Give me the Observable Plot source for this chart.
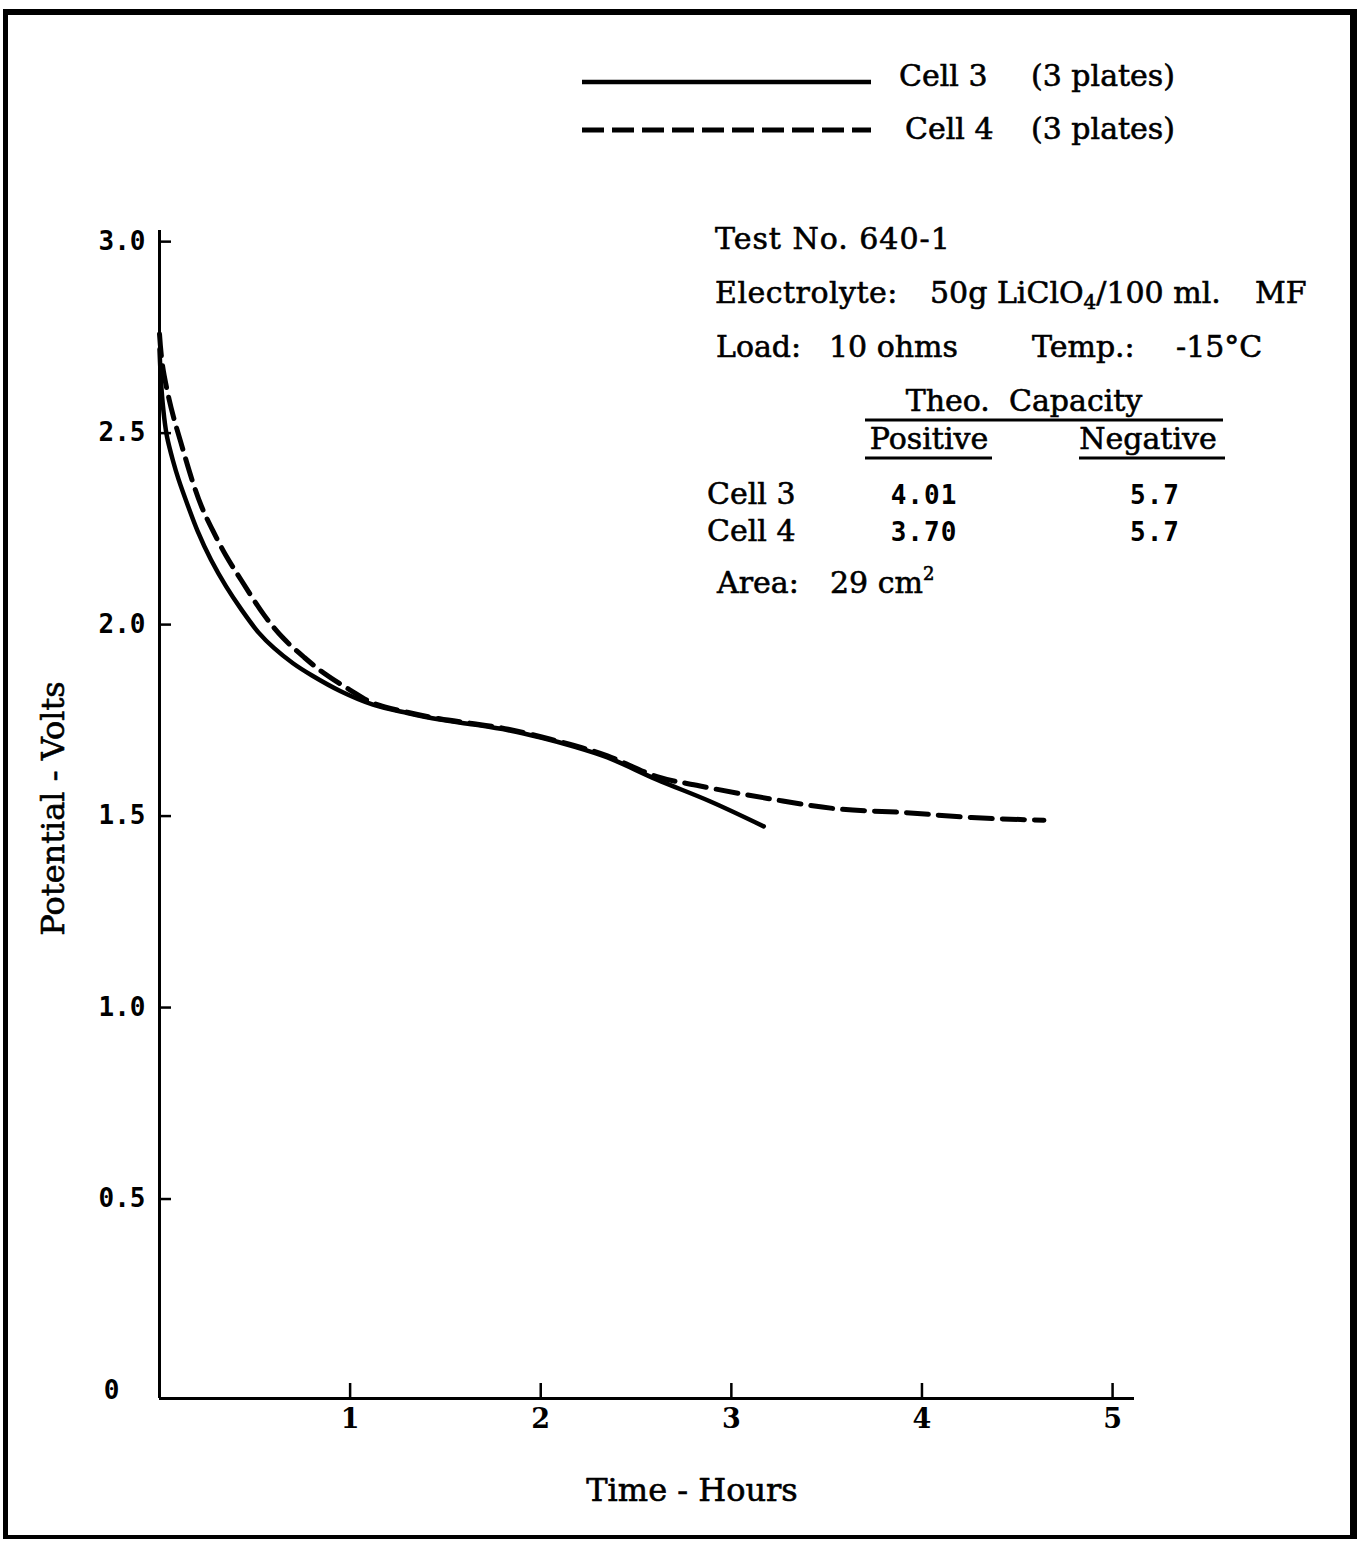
<!DOCTYPE html>
<html><head><meta charset="utf-8">
<script src="https://cdn.jsdelivr.net/npm/d3@7"></script>
<script src="https://cdn.jsdelivr.net/npm/@observablehq/plot@0.6"></script>
<style>
html,body{margin:0;padding:0;background:#fff;}
#page{position:relative;width:1359px;height:1541px;overflow:hidden;background:#fff;}
#frame{position:absolute;left:3px;top:9px;width:1354px;height:1530px;box-sizing:border-box;border-style:solid;border-color:#000;border-width:6px 7px 4px 5px;}
#chart,#notes{position:absolute;left:0;top:0;}
</style></head>
<body><div id="page"><div id="frame"></div><div id="chart"></div><svg id="notes" width="1359" height="1541"></svg></div>
<script>
// ---- data ----
const cell3Hours = [0, 0.01, 0.025, 0.04, 0.07, 0.1, 0.15, 0.2, 0.27, 0.35, 0.43, 0.52, 0.6, 0.7, 0.8, 0.95, 1.12, 1.3, 1.47, 1.65, 1.83, 2.0, 2.17, 2.35, 2.61, 2.89, 3.17];
const cell3Volts = [2.74, 2.64, 2.56, 2.51, 2.45, 2.40, 2.33, 2.265, 2.19, 2.12, 2.06, 2.00, 1.96, 1.92, 1.888, 1.847, 1.812, 1.79, 1.773, 1.76, 1.745, 1.726, 1.703, 1.674, 1.616, 1.559, 1.494];
const cell4Hours = [0, 0.015, 0.05, 0.075, 0.11, 0.17, 0.22, 0.28, 0.35, 0.43, 0.55, 0.65, 0.76, 0.86, 1.0, 1.12, 1.3, 1.47, 1.65, 1.83, 2.0, 2.17, 2.35, 2.61, 2.83, 3.19, 3.55, 3.91, 4.26, 4.64];
const cell4Volts = [2.78, 2.70, 2.61, 2.56, 2.50, 2.40, 2.33, 2.266, 2.20, 2.136, 2.045, 1.985, 1.935, 1.895, 1.85, 1.816, 1.792, 1.775, 1.762, 1.748, 1.728, 1.706, 1.678, 1.624, 1.60, 1.567, 1.54, 1.53, 1.517, 1.51];
const xTicks = [1, 2, 3, 4, 5];
const yTicks = [0.5, 1.0, 1.5, 2.0, 2.5, 3.0];
const yZero = [0];
const xTitle = "Time - Hours";
const yTitle = "Potential - Volts";
const seriesNames = ["Cell 3", "Cell 4"];
const seriesNote = "(3 plates)";
const testLine = "Test No. 640-1";
const electrolyteParts = ["Electrolyte:", "50g LiClO", "4", "/100 ml.", "MF"];
const loadParts = ["Load:", "10 ohms", "Temp.:", "-15°C"];
const capacityTitle = "Theo.\u00a0 Capacity";
const capacityCols = ["Positive", "Negative"];
const positiveCap = ["4.01", "3.70"];
const negativeCap = ["5.7", "5.7"];
const areaParts = ["Area:", "29 cm", "2"];

// ---- chart ----
const rows = [
  ...cell3Hours.map((t, i) => ({cell: seriesNames[0], t, v: cell3Volts[i]})),
  ...cell4Hours.map((t, i) => ({cell: seriesNames[1], t, v: cell4Volts[i]}))
];
const serif = "DejaVu Serif";
const mono = "DejaVu Sans Mono";

const plot = Plot.plot({
  width: 1359, height: 1541,
  marginLeft: 159, marginRight: 225, marginTop: 230, marginBottom: 143,
  x: {domain: [0, 5.115]},
  y: {domain: [0, 3.05]},
  style: {background: "transparent", color: "#000", overflow: "visible"},
  marks: [
    Plot.ruleX([0], {strokeWidth: 3}),
    Plot.ruleY([0], {strokeWidth: 3}),
    Plot.axisY(yTicks, {tickSize: -12, tickPadding: 26, tickFormat: d => d.toFixed(1), fontFamily: mono, fontWeight: "bold", fontSize: 26, letterSpacing: 1, dy: -8, strokeWidth: 2.5, label: null}),
    Plot.text(yZero, {x: 0, y: d => d, text: d => String(d), fontFamily: mono, fontWeight: "bold", fontSize: 26, dx: -48, dy: -8}),
    Plot.axisX(xTicks, {tickSize: -15, tickPadding: 25, tickFormat: d => String(d), fontFamily: serif, fontWeight: "bold", fontSize: 27, strokeWidth: 2.5, label: null}),
    Plot.text([xTitle], {frameAnchor: "bottom", lineAnchor: "middle", text: d => d, dx: 45, dy: 92, fontFamily: serif, fontSize: 32, fill: "#000", stroke: "#000", strokeWidth: 0.6}),
    Plot.text([yTitle], {frameAnchor: "left", textAnchor: "middle", lineAnchor: "middle", text: d => d, rotate: -90, dx: -106, dy: -6, fontFamily: serif, fontSize: 32, fill: "#000", stroke: "#000", strokeWidth: 0.6}),
    Plot.line(rows.filter(d => d.cell === seriesNames[0]), {x: "t", y: "v", curve: "catmull-rom", strokeWidth: 4.5, stroke: "#000"}),
    Plot.line(rows.filter(d => d.cell === seriesNames[1]), {x: "t", y: "v", curve: "catmull-rom", strokeWidth: 5, stroke: "#000", strokeDasharray: "22,10"})
  ]
});
document.getElementById("chart").appendChild(plot);

// ---- legend and notes ----
const svg = d3.select("#notes");
const txt = (x, y, s, opt = {}) => svg.append("text").attr("x", x).attr("y", y)
  .attr("font-family", opt.family || serif).attr("font-size", opt.size || 30)
  .attr("font-weight", opt.weight || "normal").attr("fill", "#000")
  .attr("stroke", opt.family ? "none" : "#000").attr("stroke-width", opt.family ? 0 : 0.6)
  .attr("text-anchor", opt.anchor || "start").attr("letter-spacing", opt.ls || 0).text(s);
// legend
svg.append("line").attr("x1", 582).attr("x2", 871).attr("y1", 82).attr("y2", 82).attr("stroke", "#000").attr("stroke-width", 4.5);
svg.append("line").attr("x1", 582).attr("x2", 871).attr("y1", 130).attr("y2", 130).attr("stroke", "#000").attr("stroke-width", 5).attr("stroke-dasharray", "22,8");
txt(899, 86, seriesNames[0]); txt(1031, 86, seriesNote);
txt(905, 139, seriesNames[1]); txt(1031, 139, seriesNote);
// info block
txt(715, 249, testLine, {ls: 1});
txt(715, 303, electrolyteParts[0], {ls: 0.5});
const el = txt(930, 303, electrolyteParts[1]);
el.append("tspan").attr("font-size", 20).attr("dy", 6).text(electrolyteParts[2]);
el.append("tspan").attr("dy", -6).text(electrolyteParts[3]);
txt(1255, 303, electrolyteParts[4]);
txt(716, 357, loadParts[0]); txt(829, 357, loadParts[1]);
txt(1032, 357, loadParts[2]); txt(1176, 357, loadParts[3]);
txt(1024, 411, capacityTitle, {anchor: "middle"});
svg.append("line").attr("x1", 865).attr("x2", 1223).attr("y1", 420).attr("y2", 420).attr("stroke", "#000").attr("stroke-width", 3);
txt(929, 449, capacityCols[0], {anchor: "middle"});
txt(1148, 449, capacityCols[1], {anchor: "middle"});
svg.append("line").attr("x1", 865).attr("x2", 992).attr("y1", 458).attr("y2", 458).attr("stroke", "#000").attr("stroke-width", 3);
svg.append("line").attr("x1", 1079).attr("x2", 1225).attr("y1", 458).attr("y2", 458).attr("stroke", "#000").attr("stroke-width", 3);
seriesNames.forEach((n, i) => {
  const y = 504 + i * 37;
  txt(707, y, n);
  txt(924, y, positiveCap[i], {family: mono, weight: "bold", size: 26, ls: 1, anchor: "middle"});
  txt(1155, y, negativeCap[i], {family: mono, weight: "bold", size: 26, ls: 1, anchor: "middle"});
});
txt(717, 593, areaParts[0]);
const ar = txt(830, 593, areaParts[1]);
ar.append("tspan").attr("font-size", 18).attr("dy", -13).text(areaParts[2]);
</script>
</body></html>
